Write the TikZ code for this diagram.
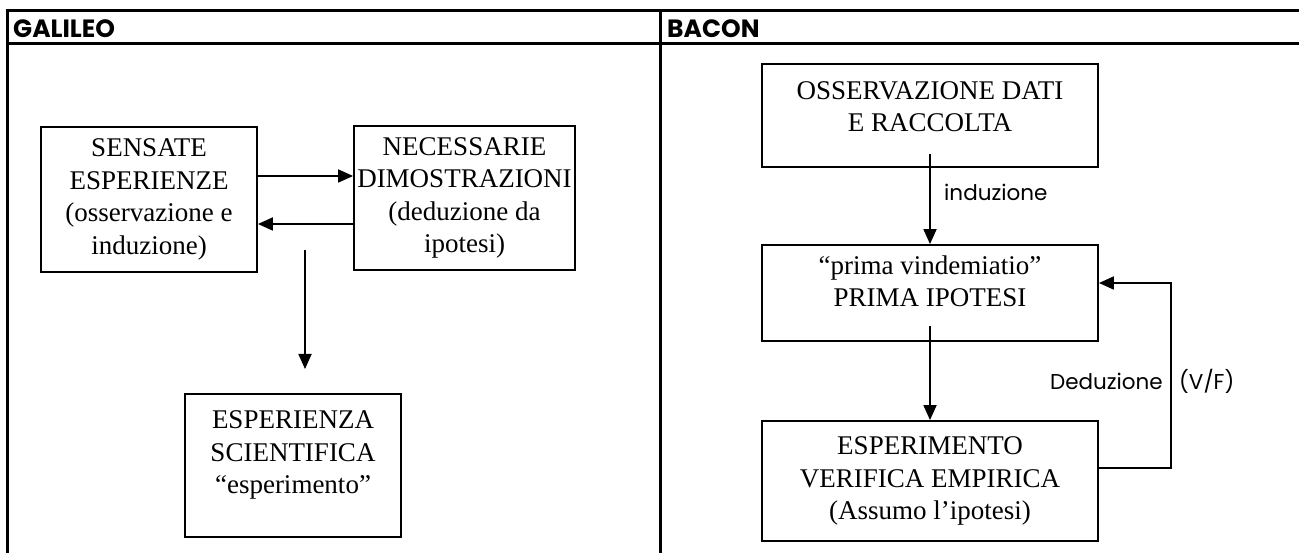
\documentclass[tikz,border=0pt]{standalone}
\usepackage{fontspec}
\setmainfont{Liberation Serif}
\newfontfamily\gothic{Poppins}
\usetikzlibrary{arrows.meta}
\begin{document}
\begin{tikzpicture}[x=1pt,y=-1pt,
  box/.style={draw=black, line width=1.8pt, align=center, inner sep=0pt,
    font=\fontsize{27}{32.5}\selectfont},
  arr/.style={line width=1.8pt, -{Triangle[length=15pt,width=13pt]}},
  frame/.style={line width=3pt},
  lbl/.style={font=\gothic\fontsize{21.5}{24}\selectfont, inner sep=0pt},
  head/.style={font=\gothic\bfseries\fontsize{25}{28}\selectfont, inner sep=0pt, anchor=west}]
\useasboundingbox (0,0) rectangle (1299,553);
% table frame
\draw[frame] (7,553) -- (7,11) -- (1299,11);
\draw[frame] (7,44) -- (1299,44);
\draw[frame] (660,11) -- (660,553);
\node[head] (hg) at (13,28.5) {GALILEO};
\node[head] (hb) at (667,28.5) {BACON};
% GALILEO
\node[box, minimum width=216pt, minimum height=145pt] (sens) at (149,199.5)
  {SENSATE\\ESPERIENZE\\(osservazione e\\induzione)};
\node[box, minimum width=221pt, minimum height=144pt] (nec) at (464.5,198)
  {NECESSARIE\\DIMOSTRAZIONI\\(deduzione da\\ipotesi)};
\node[box, minimum width=216pt, minimum height=143pt] (espz) at (293,465.5)
  {ESPERIENZA\\SCIENTIFICA\\“esperimento”\\[-16pt]\strut};
\draw[arr] (sens.east |- 0,176) -- (nec.west |- 0,176);
\draw[arr] (nec.west |- 0,224) -- (sens.east |- 0,224);
\coordinate (g1) at (305,250);
\coordinate (g2) at (305,369);
\draw[arr] (g1) -- (g2);
% BACON
\node[box, minimum width=336pt, minimum height=103pt] (oss) at (930,115.5)
  {OSSERVAZIONE DATI\\E RACCOLTA\\[-24pt]\strut};
\node[box, minimum width=336pt, minimum height=96pt] (prima) at (930,293)
  {“prima vindemiatio”\\PRIMA IPOTESI\\[-19pt]\strut};
\node[box, minimum width=336pt, minimum height=120pt] (esp) at (930,481)
  {ESPERIMENTO\\VERIFICA EMPIRICA\\(Assumo l’ipotesi)};
\draw[arr] ([yshift=14pt]oss.south) -- (prima.north);
\draw[arr] ([yshift=16pt]prima.south) -- (esp.north);
\coordinate (fb1) at (1171,468);
\coordinate (fb2) at (1171,283);
\draw[arr] (esp.east |- fb1) -- (fb1) -- (fb2) -- (prima.east |- fb2);
\node[lbl, anchor=west] (ind) at (944,192) {induzione};
\node[lbl, anchor=east] (ded) at (1163,381) {Deduzione};
\node[lbl, anchor=west] (vf) at (1179,381) {(V/F)};
\end{tikzpicture}
\end{document}
